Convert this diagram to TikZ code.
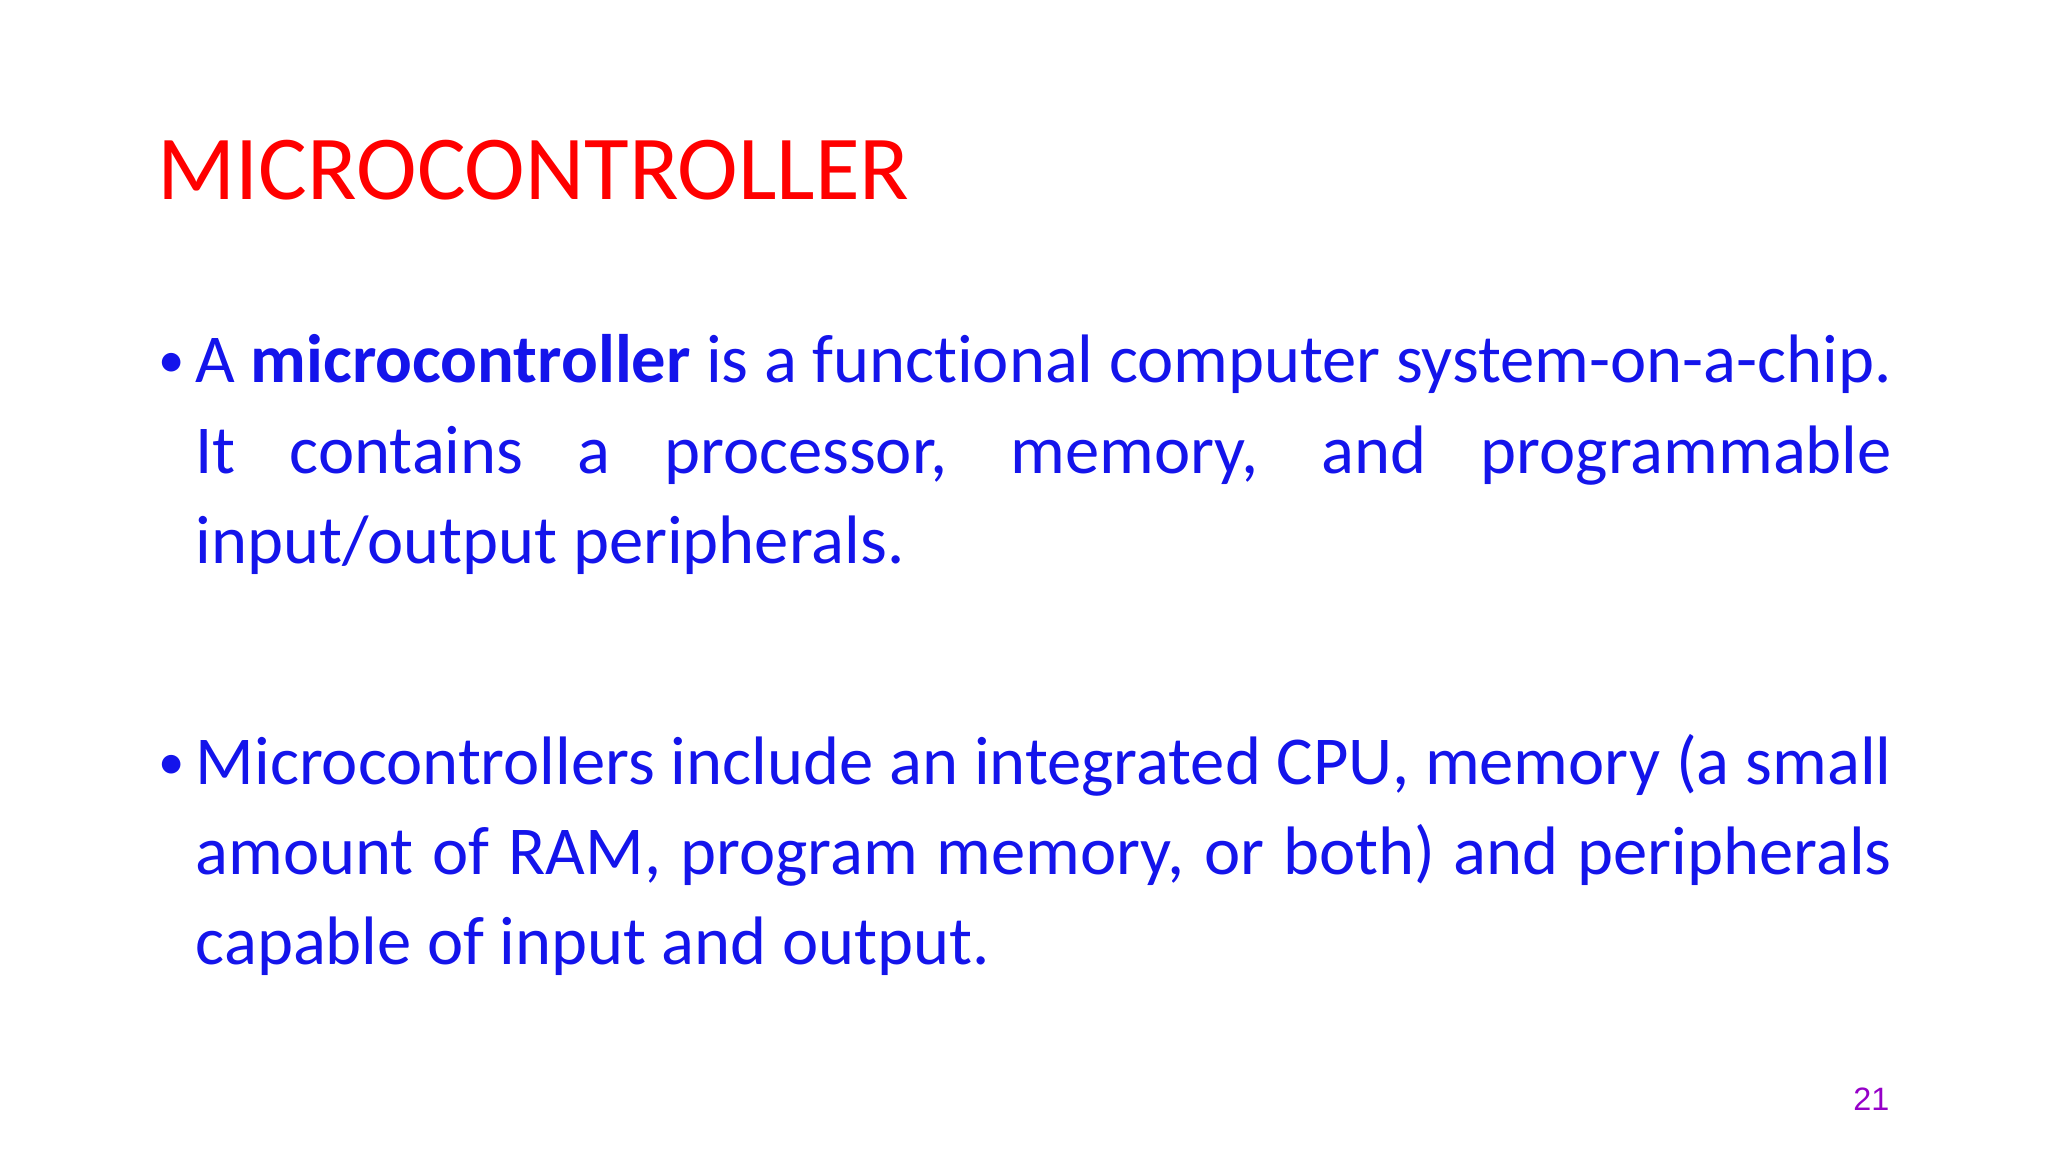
\documentclass[tikz,border=0pt]{standalone}
\usepackage{fontspec}
\setmainfont{Carlito}[Ligatures={NoCommon,NoRare,NoContextual}]
\newfontfamily\numfont{Liberation Sans}
\definecolor{titlered}{RGB}{255,0,0}
\definecolor{bodyblue}{RGB}{20,20,235}
\definecolor{numpurple}{RGB}{150,0,200}
\hyphenpenalty=10000
\begin{document}
\begin{tikzpicture}[x=0.01cm,y=-0.01cm,
  body/.style={anchor=base west,inner sep=0pt,text width=16.95cm,align=justify,text=bodyblue,font=\fontsize{19.5pt}{25.6pt}\selectfont},
  bul/.style={anchor=base west,inner sep=0pt,text=bodyblue,font=\fontsize{15pt}{25.6pt}\selectfont}]
\useasboundingbox (0,0) rectangle (2048,1152);
\node[anchor=base west,inner sep=0pt,text=titlered,font=\fontsize{26pt}{32pt}\selectfont] (title) at (157,200) {MICROCONTROLLER};
\node[bul] (b1) at (158,378) {•};
\node[body] (p1) at (195,383) {A \textbf{microcontroller} is a functional computer system-on-a-chip.\linebreak It contains a processor, memory, and programmable\linebreak input/output peripherals.};
\node[bul] (b2) at (158,779) {•};
\node[body] (p2) at (195,784) {Microcontrollers include an integrated CPU, memory (a small\linebreak amount of RAM, program memory, or both) and peripherals\linebreak capable of input and output.};
\node[anchor=base east,inner sep=0pt,text=numpurple,font=\numfont\fontsize{9.2pt}{11pt}\selectfont] (num) at (1890,1110) {21};
\end{tikzpicture}
\end{document}
